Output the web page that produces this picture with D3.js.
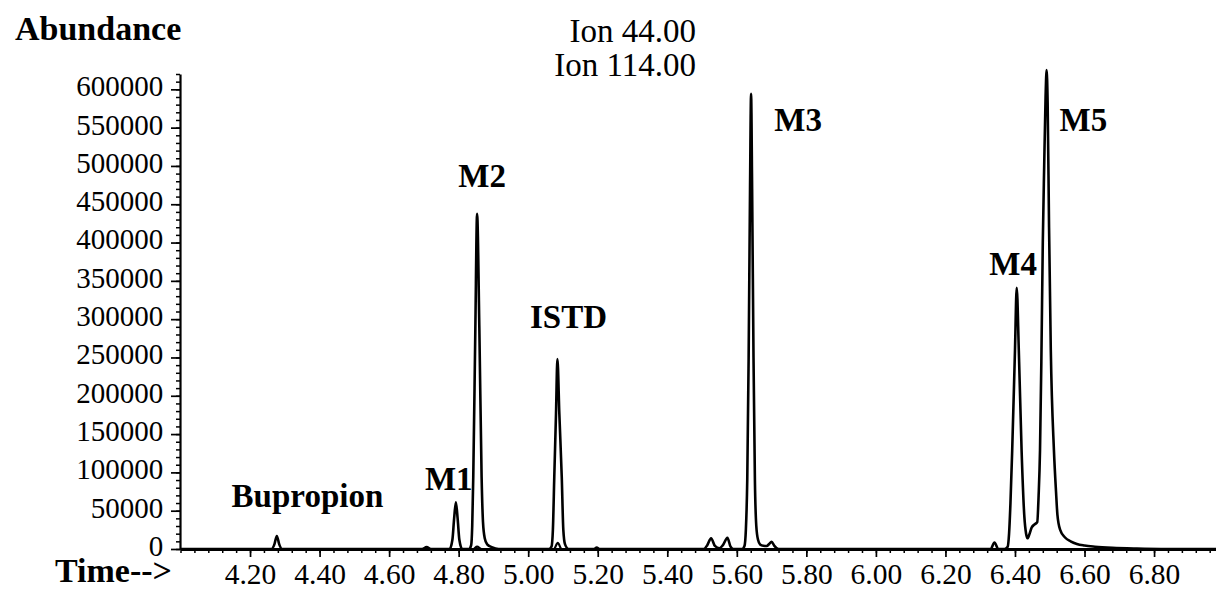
<!DOCTYPE html>
<html><head><meta charset="utf-8">
<script src="https://cdn.jsdelivr.net/npm/d3@7"></script>
<style>
body{margin:0;background:#fff}
svg{display:block}
text{font-family:"Liberation Serif","Times New Roman",serif;fill:#000}
</style>
</head><body>
<svg id="c" width="1216" height="590"></svg>
<script>
// ---- data ----
const ion44Time = [4.00,
  4.262,4.270,4.277,4.284,4.292,
  4.695,4.708,4.720,
  4.774,4.782,4.787,4.792,4.797,4.802,4.810,
  4.830,4.836,4.839,4.842,4.848,4.853,4.8595,4.866,4.870,4.875,4.882,4.895,4.915,
  5.060,5.067,5.071,5.075,5.080,5.084,5.0895,5.0965,5.101,5.106,5.116,
  5.190,5.197,5.205,
  5.505,5.515,5.526,5.537,5.550,5.560,5.573,5.582,5.590,
  5.615,5.622,5.626,5.630,5.634,5.638,5.641,5.644,5.648,5.652,5.656,5.661,5.667,5.676,5.686,5.693,5.700,5.708,5.720,
  6.330,6.341,6.352,
  6.370,6.379,6.383,6.387,6.392,6.400,6.405,6.411,6.419,6.427,6.432,6.436,6.442,6.448,6.456,6.464,6.468,6.472,6.476,6.480,6.484,6.488,6.491,6.494,6.498,6.503,6.512,6.518,6.522,6.530,6.544,6.560,6.578,6.600,6.630,6.680,6.750,6.820,
  7.00];
const ion44Abund = [0,
  0,6000,17000,6000,0,
  0,2500,0,
  0,12000,40000,61000,40000,12000,0,
  0,5000,30000,94000,288000,437500,288000,94000,35000,14000,6000,2500,0,
  0,3000,25000,94000,177000,248000,177000,94000,25000,6000,0,
  0,2000,0,
  0,5000,14000,4000,1000,5000,14500,3000,0,
  0,4000,25000,90000,250000,470000,594000,470000,250000,90000,30000,12000,6000,4300,4000,6500,9500,4000,0,
  0,8500,0,
  0,3000,20000,60000,129000,259500,341000,259500,129000,42000,20000,14000,20000,28000,32000,35000,70000,129000,250000,400000,500000,590000,625000,580000,420000,260000,129000,75000,45000,25000,15000,10000,6500,4500,3000,1500,500,0,
  0];
const ion114Time  = [4.00, 4.842,4.853,4.866, 5.074,5.085,5.096, 7.00];
const ion114Abund = [0,    0,3000,0,         0,8000,0,          0];

const xTickValues = [4.2,4.4,4.6,4.8,5.0,5.2,5.4,5.6,5.8,6.0,6.2,6.4,6.6,6.8];
const xTickLabels = ["4.20","4.40","4.60","4.80","5.00","5.20","5.40","5.60","5.80","6.00","6.20","6.40","6.60","6.80"];
const yTickValues = [0,50000,100000,150000,200000,250000,300000,350000,400000,450000,500000,550000,600000];
const yTickLabels = ["0","50000","100000","150000","200000","250000","300000","350000","400000","450000","500000","550000","600000"];

const peakNames = ["Bupropion","M1","M2","ISTD","M3","M4","M5"];
const peakLabelTime = [4.147,4.703,4.799,5.005,5.708,6.326,6.528];
const peakLabelAbund = [55200,77000,472500,288100,546000,357600,546000];

const ionLabels = ["Ion 44.00","Ion 114.00"];

// ---- drawing ----
const svg = d3.select("#c");
const x = d3.scaleLinear().domain([4.0,7.0]).range([180.5,1223.6]);
const y = d3.scaleLinear().domain([0,620000]).range([549,74]);

// minor x ticks
const xMinor = d3.range(4.0, 7.0001, 0.04).map(v => +v.toFixed(2));
svg.append("g").attr("transform","translate(0,549)")
  .call(d3.axisBottom(x).tickValues(xMinor).tickSize(4).tickSizeOuter(0).tickFormat(""))
  .call(g => g.select(".domain").attr("stroke-width",2.8))
  .call(g => g.selectAll(".tick line").attr("stroke-width",1.5));
// major x ticks
svg.append("g").attr("transform","translate(0,549)")
  .call(d3.axisBottom(x).tickValues(xTickValues).tickSize(8).tickSizeOuter(0).tickPadding(5.9)
        .tickFormat((d,i) => xTickLabels[i]))
  .call(g => g.select(".domain").remove())
  .call(g => g.selectAll(".tick line").attr("stroke-width",1.7))
  .call(g => g.selectAll(".tick text").attr("font-size",29.5).attr("font-family",'"Liberation Serif",serif'));

// minor y ticks
const yMinor = d3.range(0, 620001, 10000);
svg.append("g").attr("transform","translate(180,0)")
  .call(d3.axisLeft(y).tickValues(yMinor).tickSize(4).tickSizeOuter(0).tickFormat(""))
  .call(g => g.select(".domain").attr("stroke-width",2.2))
  .call(g => g.selectAll(".tick line").attr("stroke-width",1.5));
// major y ticks
svg.append("g").attr("transform","translate(180,0)")
  .call(d3.axisLeft(y).tickValues(yTickValues).tickSize(9).tickSizeOuter(0).tickPadding(7.7)
        .tickFormat((d,i) => yTickLabels[i]))
  .call(g => g.select(".domain").remove())
  .call(g => g.selectAll(".tick line").attr("stroke-width",1.7))
  .call(g => g.selectAll(".tick text").attr("font-size",29).attr("dy","0.22em").attr("font-family",'"Liberation Serif",serif'));

// traces
const line = d3.line().x(d => x(d[0])).y(d => y(d[1])).curve(d3.curveMonotoneX);
const ion114 = ion114Time.map((t,i) => [t, ion114Abund[i]]);
const ion44 = ion44Time.map((t,i) => [t, ion44Abund[i]]);
svg.append("path").datum(ion114).attr("d",line).attr("fill","none").attr("stroke","#000").attr("stroke-width",2.2);
svg.append("path").datum(ion44).attr("d",line).attr("fill","none").attr("stroke","#000").attr("stroke-width",2.6).attr("stroke-linejoin","round");

// peak labels
svg.append("g").selectAll("text").data(peakNames).join("text")
  .attr("x",(d,i) => x(peakLabelTime[i]))
  .attr("y",(d,i) => y(peakLabelAbund[i]))
  .attr("font-size",33).attr("font-weight","bold")
  .text(d => d);

// titles
svg.append("text").attr("x",15).attr("y",40).attr("font-size",34).attr("font-weight","bold").text("Abundance");
svg.append("text").attr("x",55).attr("y",581.7).attr("font-size",34).attr("font-weight","bold").text("Time-->");
svg.append("g").selectAll("text").data(ionLabels).join("text")
  .attr("x",696).attr("y",(d,i) => i === 0 ? 41.7 : 76)
  .attr("text-anchor","end").attr("font-size",33)
  .text(d => d);
</script>
</body></html>
